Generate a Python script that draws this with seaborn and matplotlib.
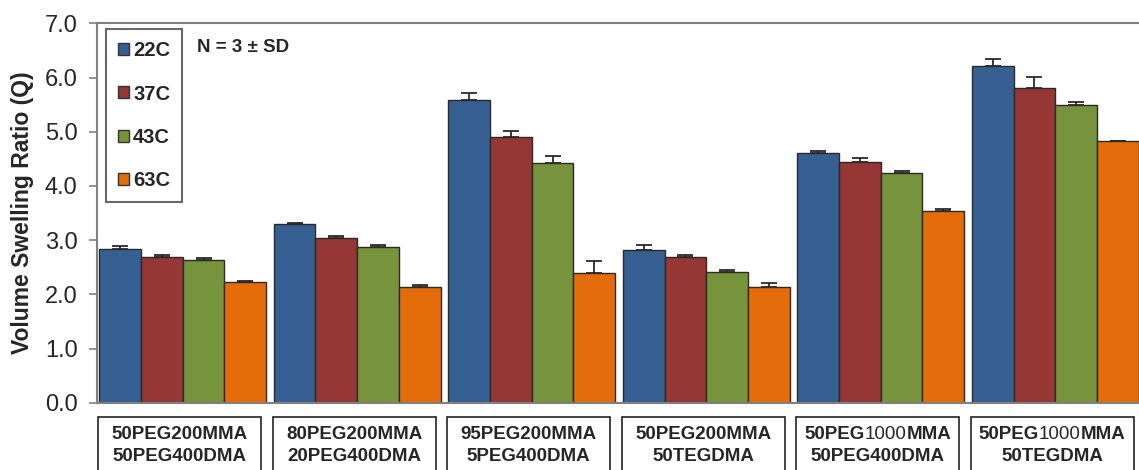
import re
import numpy as np
import pandas as pd
import matplotlib
matplotlib.use("Agg")
import matplotlib.pyplot as plt
import matplotlib.transforms as mtransforms
from matplotlib.patches import Patch, Rectangle
from matplotlib.offsetbox import TextArea, HPacker, VPacker, AnnotationBbox
import seaborn as sns

# Hydrogel formulations (text in braces is set in regular weight)
formulations = [
    "50PEG200MMA\n50PEG400DMA",
    "80PEG200MMA\n20PEG400DMA",
    "95PEG200MMA\n5PEG400DMA",
    "50PEG200MMA\n50TEGDMA",
    "50PEG{1000}MMA\n50PEG400DMA",
    "50PEG{1000}MMA\n50TEGDMA",
]
temperatures = ["22C", "37C", "43C", "63C"]

# Mean volume swelling ratio Q per temperature
q_22 = [2.83, 3.29, 5.58, 2.82, 4.61, 6.22]
q_37 = [2.69, 3.03, 4.91, 2.69, 4.45, 5.81]
q_43 = [2.63, 2.87, 4.43, 2.41, 4.24, 5.50]
q_63 = [2.23, 2.14, 2.40, 2.14, 3.53, 4.83]

# Standard deviations (N = 3)
sd_22 = [0.06, 0.03, 0.13, 0.09, 0.04, 0.12]
sd_37 = [0.04, 0.04, 0.10, 0.04, 0.06, 0.20]
sd_43 = [0.04, 0.04, 0.12, 0.04, 0.04, 0.04]
sd_63 = [0.01, 0.03, 0.21, 0.06, 0.04, 0.00]

colors = ["#376092", "#953735", "#77933C", "#E46C0A"]

means = [q_22, q_37, q_43, q_63]
sds = [sd_22, sd_37, sd_43, sd_63]
group_ids = [f"g{i}" for i in range(len(formulations))]
df = pd.DataFrame({
    "group": np.tile(group_ids, len(temperatures)),
    "temp": np.repeat(temperatures, len(formulations)),
    "Q": np.concatenate(means),
})

sns.set_style("white")
plt.rcParams["font.family"] = ["Liberation Sans", "DejaVu Sans"]

W, H = 1139, 470
fig = plt.figure(figsize=(W / 100, H / 100), dpi=100)
ax_left, ax_top, ax_bottom = 97, 23.3, 402.7
ax = fig.add_axes([ax_left / W, 1 - ax_bottom / H, 1 - ax_left / W, (ax_bottom - ax_top) / H])

sns.barplot(data=df, x="group", y="Q", hue="temp", order=group_ids,
            hue_order=temperatures, palette=colors, width=0.956,
            edgecolor="#2a2a2a", linewidth=1.0, errorbar=None,
            legend=False, saturation=1, ax=ax)

# Upper-only SD whiskers on each bar
for cont, sd in zip(ax.containers, sds):
    xs = [b.get_x() + b.get_width() / 2 for b in cont]
    ys = [b.get_height() for b in cont]
    ax.errorbar(xs, ys, yerr=[np.zeros(len(sd)), sd], fmt="none",
                ecolor="#2a2a2a", elinewidth=1.3, capsize=6, capthick=1.3,
                zorder=3)

ax.set_ylim(0, 7)
ax.set_xlim(-0.491, 5.48)
ax.set_yticks(np.arange(0, 7.01, 1.0))
ax.set_yticklabels([f"{v:.1f}" for v in np.arange(0, 7.01, 1.0)], fontsize=17)
ax.set_xticks([])
ax.set_xlabel("")
ax.set_ylabel("Volume Swelling Ratio (Q)", fontsize=16.5, fontweight="bold",
              labelpad=8)
ax.tick_params(axis="y", direction="out", length=6, width=1.2,
               color="#808080", pad=8, left=True)

for side in ["left", "top", "bottom"]:
    ax.spines[side].set_color("#808080")
    ax.spines[side].set_linewidth(1.5)
ax.spines["right"].set_visible(False)

# Legend
handles = [Patch(facecolor=c, edgecolor="#333333", linewidth=1.0) for c in colors]
leg = ax.legend(handles, temperatures, loc="upper left",
                bbox_to_anchor=((106 - ax_left) / (W - ax_left), (ax_bottom - 29.3) / (ax_bottom - ax_top)),
                borderaxespad=0, frameon=True, fancybox=False,
                prop={"weight": "bold", "size": 14.5}, handlelength=0.55,
                handleheight=0.55, handletextpad=0.2, labelspacing=1.2,
                borderpad=0.6)
leg.get_frame().set_edgecolor("#444444")
leg.get_frame().set_linewidth(1.5)

ax.text((197 - ax_left) / (W - ax_left), (ax_bottom - 47) / (ax_bottom - ax_top),
        "N = 3 \u00b1 SD", transform=ax.transAxes, fontsize=13.5,
        fontweight="bold", va="center", ha="left")

# Category labels in framed boxes below the axis
trans = mtransforms.blended_transform_factory(ax.transData, ax.transAxes)
axh = ax_bottom - ax_top
box_top = (ax_bottom - 416.7) / axh


def line_box(line):
    parts = re.split(r"(\{[^}]*\})", line)
    areas = []
    for p in parts:
        if not p:
            continue
        if p.startswith("{"):
            areas.append(TextArea(p[1:-1], textprops=dict(fontsize=13.5, fontweight="normal")))
        else:
            areas.append(TextArea(p, textprops=dict(fontsize=13.5, fontweight="bold")))
    return HPacker(children=areas, pad=0, sep=0, align="baseline")


for i, label in enumerate(formulations):
    rect = Rectangle((i - 0.484, box_top - 0.3), 0.934, 0.3, transform=trans,
                     facecolor="white", edgecolor="#222222", linewidth=1.2,
                     clip_on=False)
    ax.add_patch(rect)
    lines = label.split("\n")
    packed = VPacker(children=[line_box(l) for l in lines], pad=0, sep=4,
                     align="center")
    ab = AnnotationBbox(packed, (i - 0.017, (ax_bottom - 445.5) / axh),
                        xycoords=trans, frameon=False, box_alignment=(0.5, 0.5),
                        annotation_clip=False)
    ax.add_artist(ab)

fig.savefig("out.png", dpi=100)
